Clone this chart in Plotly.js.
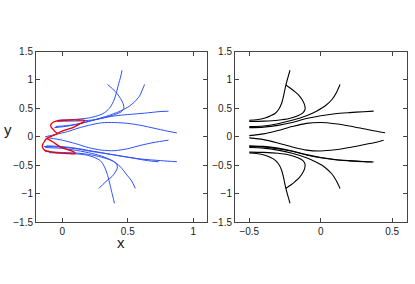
<!DOCTYPE html>
<html><head><meta charset="utf-8">
<script src="https://cdn.plot.ly/plotly-3.0.1.min.js"></script>
<style>html,body{margin:0;padding:0;background:#fff;}#g{width:415px;height:284px;}</style>
</head><body><div id="g"></div>
<script>
// ---- Left panel: blue trajectories ----
const L1x = [-0.02, 0.05, 0.12, 0.2, 0.27, 0.32, 0.36, 0.39, 0.41, 0.43, 0.445, 0.456];
const L1y = [0.29, 0.295, 0.31, 0.33, 0.37, 0.42, 0.5, 0.62, 0.75, 0.93, 1.05, 1.17];
const L2x = [-0.04, 0.05, 0.15, 0.25, 0.33, 0.4, 0.45, 0.47, 0.465, 0.445, 0.418, 0.385, 0.345];
const L2y = [0.27, 0.275, 0.28, 0.3, 0.34, 0.39, 0.44, 0.5, 0.58, 0.67, 0.76, 0.84, 0.92];
const L3x = [-0.05, 0.05, 0.15, 0.25, 0.35, 0.43, 0.5, 0.55, 0.59, 0.61, 0.628];
const L3y = [0.18, 0.2, 0.24, 0.3, 0.37, 0.44, 0.52, 0.61, 0.72, 0.82, 0.92];
const L4x = [-0.06, 0.05, 0.15, 0.25, 0.35, 0.45, 0.55, 0.65, 0.73, 0.81];
const L4y = [0.16, 0.19, 0.24, 0.3, 0.35, 0.38, 0.4, 0.42, 0.44, 0.45];
const L5x = [-0.13, -0.05, 0.04, 0.12, 0.2, 0.3, 0.4, 0.5, 0.6, 0.7, 0.8, 0.874];
const L5y = [0.0, 0.04, 0.09, 0.15, 0.2, 0.245, 0.25, 0.235, 0.2, 0.15, 0.1, 0.067];
const LB1x = [-0.1, 0.0, 0.1, 0.18, 0.24, 0.29, 0.32, 0.342, 0.36, 0.375, 0.388, 0.398];
const LB1y = [-0.28, -0.29, -0.3, -0.32, -0.36, -0.42, -0.52, -0.65, -0.8, -0.95, -1.07, -1.17];
const LB2x = [-0.13, -0.02, 0.1, 0.2, 0.3, 0.38, 0.415, 0.42, 0.405, 0.38, 0.342, 0.31, 0.28];
const LB2y = [-0.26, -0.275, -0.285, -0.31, -0.36, -0.42, -0.48, -0.55, -0.62, -0.7, -0.77, -0.84, -0.91];
const LB3x = [-0.13, -0.03, 0.08, 0.2, 0.3, 0.38, 0.44, 0.494, 0.53, 0.557];
const LB3y = [-0.19, -0.2, -0.23, -0.28, -0.34, -0.42, -0.52, -0.675, -0.78, -0.91];
const LB4x = [-0.14, -0.03, 0.1, 0.2, 0.342, 0.45, 0.595, 0.75, 0.874];
const LB4y = [-0.17, -0.18, -0.21, -0.25, -0.3, -0.34, -0.39, -0.42, -0.44];
const LB6x = [-0.12, -0.02, 0.1, 0.2, 0.3, 0.42, 0.55, 0.65, 0.735];
const LB6y = [-0.16, -0.17, -0.2, -0.24, -0.28, -0.33, -0.38, -0.42, -0.44];
const LB5x = [-0.1, 0.0, 0.1, 0.2, 0.3, 0.4, 0.5, 0.6, 0.7, 0.81];
const LB5y = [-0.02, -0.06, -0.12, -0.19, -0.235, -0.245, -0.21, -0.15, -0.1, -0.06];
// ---- Left panel: red initial curve ----
const redX = [-0.04, 0.0, 0.04, 0.09, 0.13, 0.165, 0.17, 0.12, 0.06, 0.0, -0.04, -0.07, -0.088, -0.085, -0.07, -0.055, -0.04, -0.08, -0.12, -0.135, -0.15, -0.15, -0.135, -0.09, -0.03, 0.04, 0.1, 0.09, 0.06, 0.02, -0.02, -0.06, -0.1, -0.12];
const redY = [0.06, 0.1, 0.13, 0.17, 0.22, 0.265, 0.29, 0.295, 0.295, 0.29, 0.28, 0.255, 0.21, 0.17, 0.13, 0.09, 0.06, 0.01, -0.03, -0.08, -0.14, -0.19, -0.235, -0.265, -0.285, -0.295, -0.3, -0.27, -0.24, -0.21, -0.17, -0.11, -0.05, -0.03];
// ---- Right panel: black curves ----
const R1x = [-0.5, -0.45, -0.39, -0.35, -0.32, -0.295, -0.275, -0.26, -0.245, -0.23, -0.215];
const R1y = [0.29, 0.3, 0.33, 0.37, 0.41, 0.48, 0.58, 0.72, 0.9, 1.04, 1.17];
const R2x = [-0.5, -0.4, -0.3, -0.22, -0.16, -0.125, -0.11, -0.112, -0.125, -0.15, -0.18, -0.21, -0.245];
const R2y = [0.27, 0.275, 0.29, 0.32, 0.37, 0.42, 0.48, 0.55, 0.63, 0.72, 0.79, 0.85, 0.91];
const R3x = [-0.5, -0.4, -0.3, -0.2, -0.1, -0.03, 0.03, 0.08, 0.11, 0.135];
const R3y = [0.18, 0.19, 0.23, 0.29, 0.37, 0.45, 0.54, 0.66, 0.78, 0.92];
const R4x = [-0.5, -0.4, -0.3, -0.2, -0.1, 0.0, 0.1, 0.2, 0.3, 0.37];
const R4y = [0.16, 0.17, 0.2, 0.25, 0.32, 0.37, 0.405, 0.425, 0.44, 0.45];
const R5x = [-0.5, -0.4, -0.3, -0.2, -0.1, 0.0, 0.1, 0.2, 0.3, 0.38, 0.45];
const R5y = [0.02, 0.05, 0.11, 0.18, 0.235, 0.25, 0.23, 0.19, 0.14, 0.1, 0.07];
const RB1x = [-0.5, -0.45, -0.39, -0.35, -0.32, -0.295, -0.275, -0.26, -0.245, -0.23, -0.215];
const RB1y = [-0.285, -0.295, -0.325, -0.365, -0.41, -0.48, -0.58, -0.72, -0.9, -1.04, -1.17];
const RB2x = [-0.5, -0.4, -0.3, -0.22, -0.16, -0.125, -0.11, -0.112, -0.125, -0.15, -0.18, -0.21, -0.245];
const RB2y = [-0.27, -0.275, -0.29, -0.32, -0.37, -0.42, -0.48, -0.55, -0.63, -0.72, -0.79, -0.85, -0.91];
const RB3x = [-0.5, -0.4, -0.3, -0.2, -0.1, -0.03, 0.03, 0.08, 0.11, 0.135];
const RB3y = [-0.19, -0.2, -0.235, -0.29, -0.37, -0.45, -0.54, -0.66, -0.78, -0.91];
const RB4x = [-0.5, -0.4, -0.3, -0.2, -0.1, 0.0, 0.1, 0.2, 0.3, 0.37];
const RB4y = [-0.17, -0.18, -0.21, -0.255, -0.32, -0.37, -0.405, -0.425, -0.44, -0.445];
const RB6x = [-0.5, -0.4, -0.3, -0.2, -0.1, 0.0, 0.1, 0.2, 0.3, 0.36];
const RB6y = [-0.16, -0.17, -0.2, -0.25, -0.315, -0.365, -0.4, -0.42, -0.435, -0.44];
const RB5x = [-0.5, -0.4, -0.3, -0.2, -0.1, 0.0, 0.1, 0.2, 0.3, 0.38, 0.44];
const RB5y = [-0.02, -0.05, -0.11, -0.18, -0.235, -0.25, -0.23, -0.19, -0.14, -0.1, -0.06];
// ---- Ticks ----
const yTicks = [-1.5, -1, -0.5, 0, 0.5, 1, 1.5];
const yTickText = ["\u22121.5", "\u22121", "\u22120.5", "0", "0.5", "1", "1.5"];
const xTicksL = [0, 0.5, 1];
const xTickTextL = ["0", "0.5", "1"];
const xTicksR = [-0.5, 0, 0.5];
const xTickTextR = ["\u22120.5", "0", "0.5"];

const BLUE = 'rgb(45,80,250)';
const RED = 'rgb(235,0,0)';
const BLACK = '#000';

const leftBlue = [[L1x,L1y],[L2x,L2y],[L3x,L3y],[L4x,L4y],[L5x,L5y],[LB1x,LB1y],[LB2x,LB2y],[LB3x,LB3y],[LB4x,LB4y],[LB6x,LB6y],[LB5x,LB5y]];
const rightBlack = [[R1x,R1y],[R2x,R2y],[R3x,R3y],[R4x,R4y],[R5x,R5y],[RB1x,RB1y],[RB2x,RB2y],[RB3x,RB3y],[RB4x,RB4y],[RB6x,RB6y],[RB5x,RB5y]];

const traces = [];
leftBlue.forEach(c => traces.push({x:c[0], y:c[1], type:'scatter', mode:'lines', xaxis:'x', yaxis:'y',
  line:{color:BLUE, width:1.0, shape:'spline', smoothing:0.8}, hoverinfo:'skip'}));
traces.push({x:redX, y:redY, type:'scatter', mode:'lines', xaxis:'x', yaxis:'y',
  line:{color:RED, width:1.3, shape:'spline', smoothing:0.6}, hoverinfo:'skip'});
rightBlack.forEach(c => traces.push({x:c[0], y:c[1], type:'scatter', mode:'lines', xaxis:'x2', yaxis:'y2',
  line:{color:BLACK, width:1.1, shape:'spline', smoothing:0.8}, hoverinfo:'skip'}));

const FONT = {family:'Liberation Sans, Arial, sans-serif', size:10, color:'#222'};
function ax(extra){
  return Object.assign({showgrid:false, zeroline:false, showline:true, linecolor:'#444', linewidth:1,
    mirror:'ticks', ticks:'inside', ticklen:4, tickcolor:'#444', tickwidth:1,
    tickfont:FONT, fixedrange:true, tickmode:'array'}, extra);
}
const yDom = [1-222/284, 1-51.5/284];
const layout = {
  width:415, height:284, margin:{l:0,r:0,t:0,b:0}, showlegend:false,
  paper_bgcolor:'#fff', plot_bgcolor:'#fff', font:FONT,
  xaxis: ax({domain:[36/415, 206.5/415], range:[-0.2,1.1], tickvals:xTicksL, ticktext:xTickTextL, anchor:'y'}),
  yaxis: ax({domain:yDom, range:[-1.5,1.5], tickvals:yTicks, ticktext:yTickText, anchor:'x'}),
  xaxis2: ax({domain:[235/415, 406.5/415], range:[-0.6,0.6], tickvals:xTicksR, ticktext:xTickTextR, anchor:'y2'}),
  yaxis2: ax({domain:yDom, range:[-1.5,1.5], tickvals:yTicks, ticktext:yTickText, anchor:'x2'}),
  annotations:[
    {text:'x', xref:'paper', yref:'paper', x:121/415, y:1-242/284, showarrow:false,
     font:{family:'Liberation Sans, Arial, sans-serif', size:15, color:'#222'}, xanchor:'center', yanchor:'middle'},
    {text:'y', xref:'paper', yref:'paper', x:8/415, y:1-129/284, showarrow:false,
     font:{family:'Liberation Sans, Arial, sans-serif', size:15, color:'#222'}, xanchor:'center', yanchor:'middle'}
  ]
};
Plotly.newPlot('g', traces, layout, {staticPlot:true, displayModeBar:false});
</script></body></html>
